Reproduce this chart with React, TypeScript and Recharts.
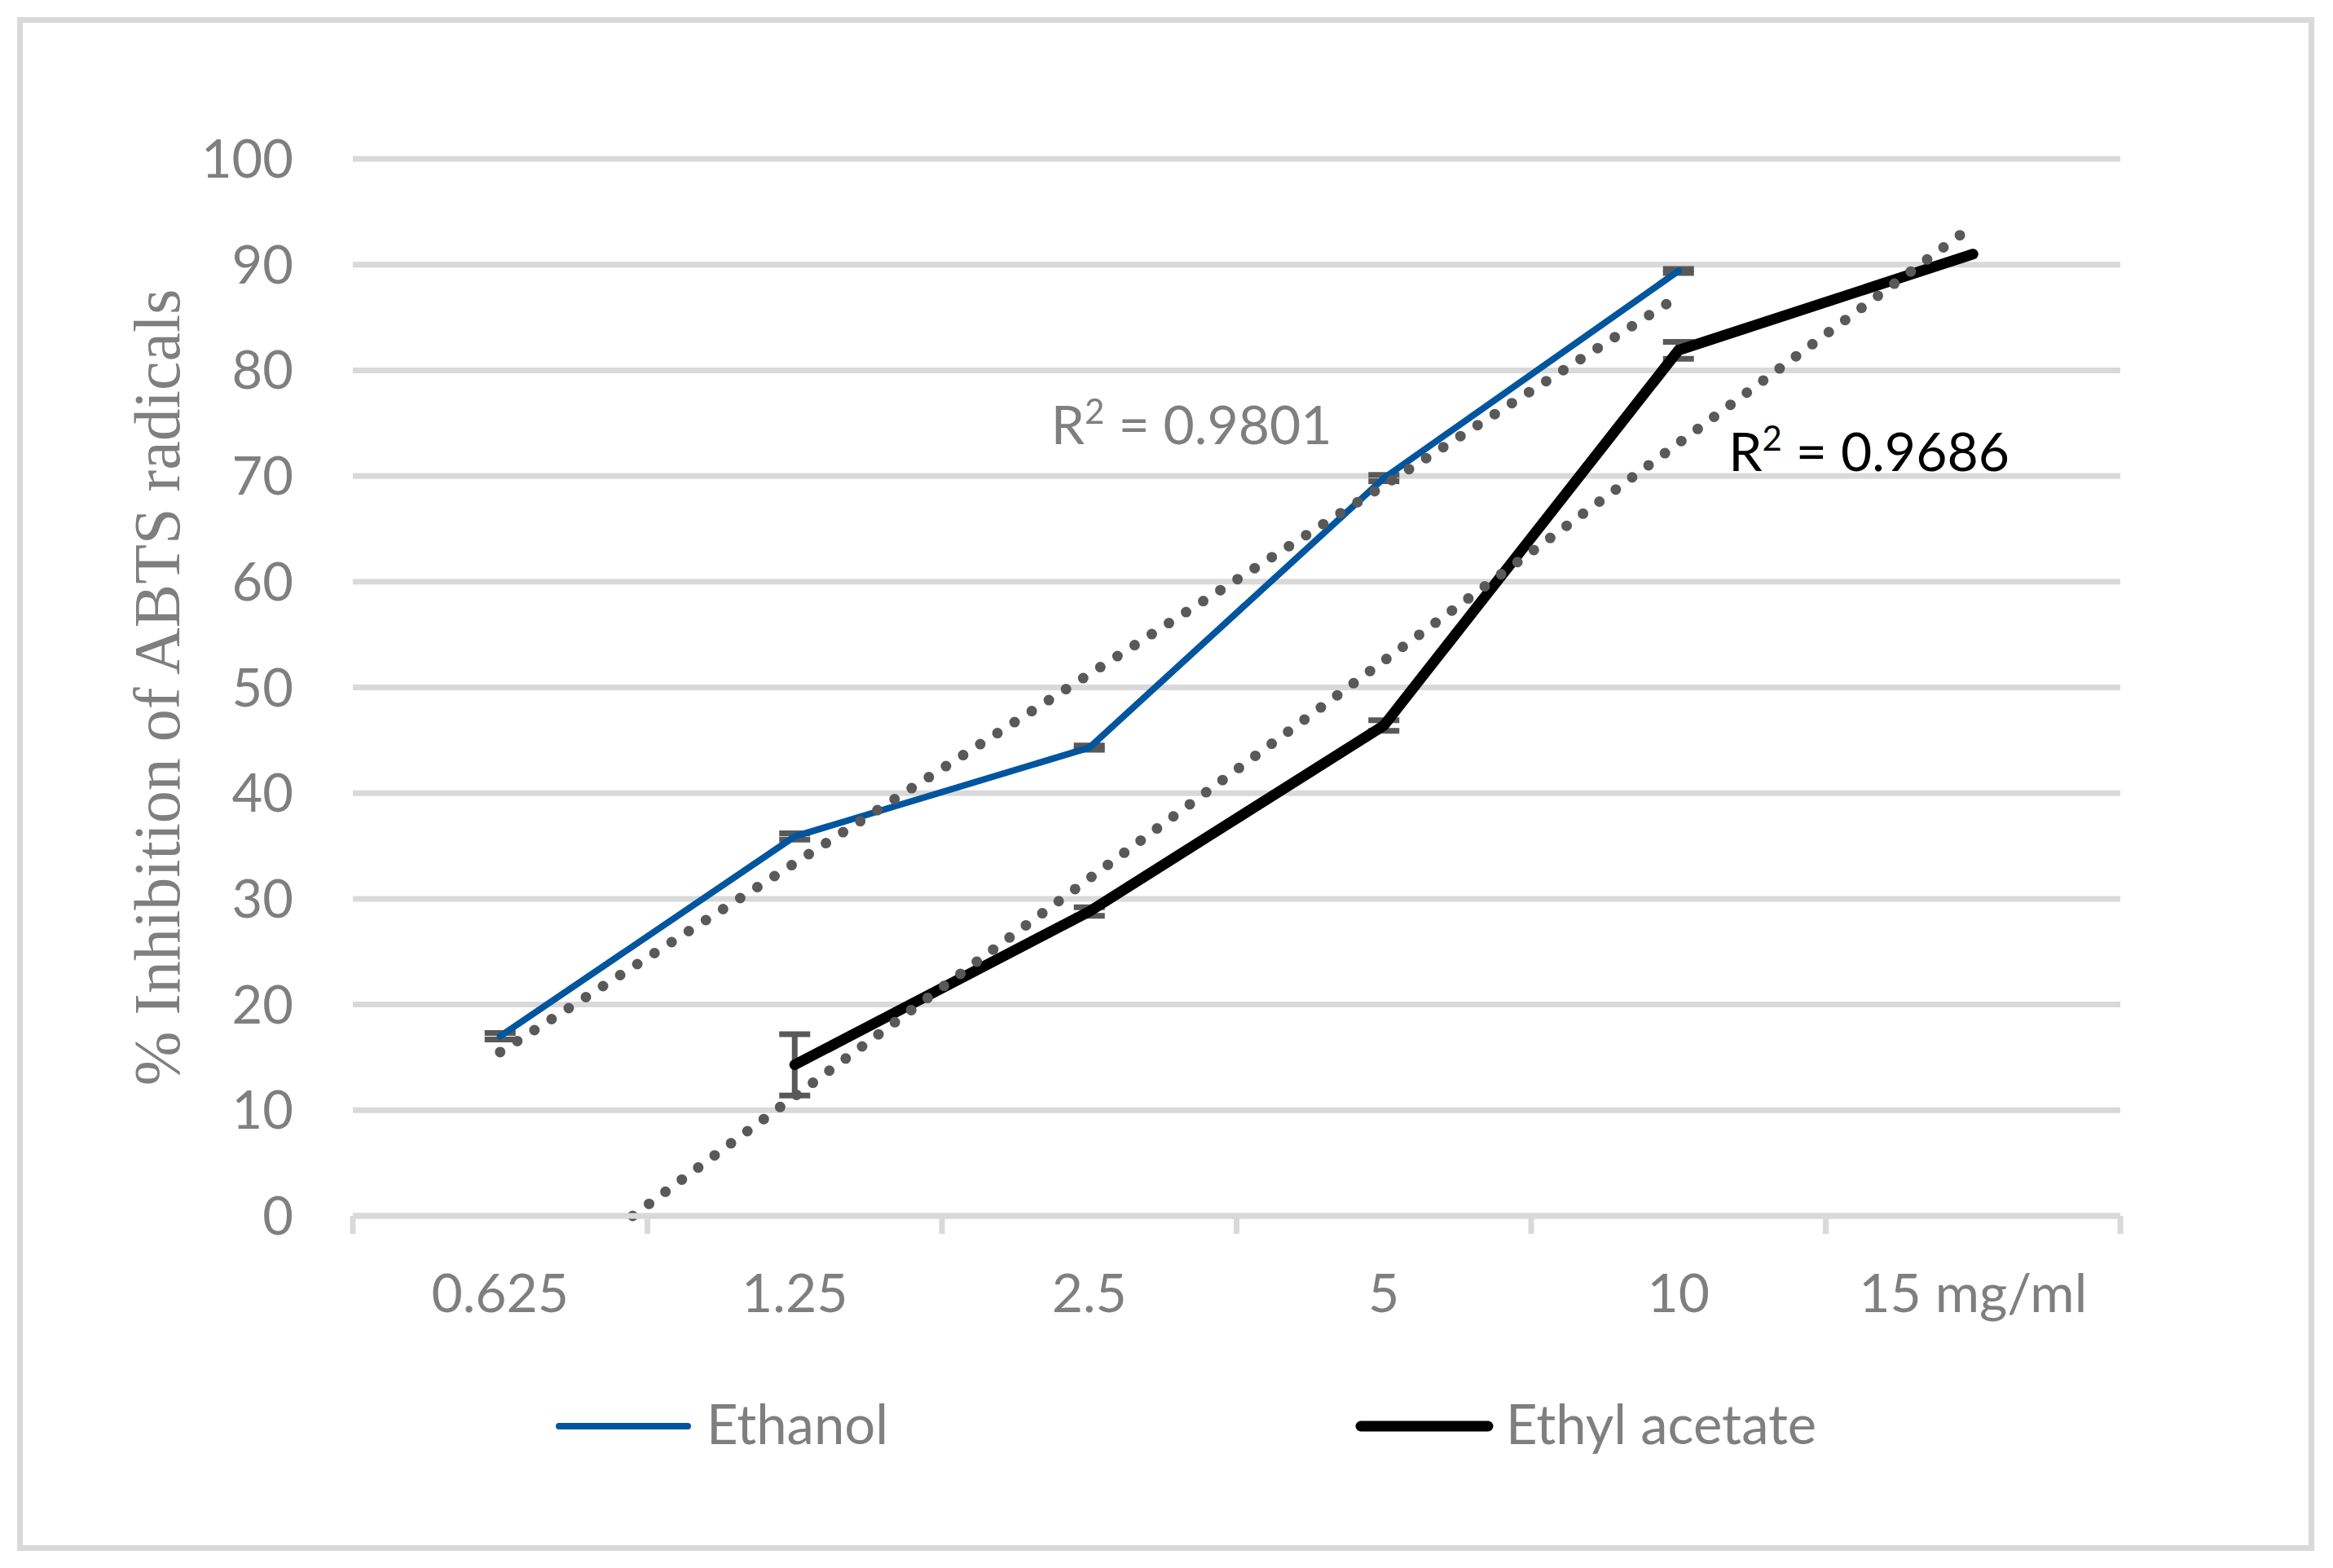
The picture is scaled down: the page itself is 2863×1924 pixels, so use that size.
import React from 'react';
import { LineChart, Line, XAxis, YAxis, CartesianGrid, ErrorBar, Legend, ReferenceDot, Label } from 'recharts';

const categories = ['0.625', '1.25', '2.5', '5', '10', '15 mg/ml'];
const ethanol = [17.0, 35.9, 44.3, 69.8, 89.4, null];
const ethanolErr = [0.3, 0.3, 0.2, 0.3, 0.2, null];
const ethylAcetate = [null, 14.3, 28.8, 46.4, 81.9, 91.0];
const ethylAcetateErr = [null, 2.9, 0.4, 0.5, 0.8, null];

// linear trendline end points
const ethanolTrendX = [0, 4];
const ethanolTrendY = [15.5, 87.0];
const ethylAcetateTrendX = [0.45, 5];
const ethylAcetateTrendY = [0, 93.7];

const r2Values = ['0.9801', '0.9686'];

const yTicks = [0, 10, 20, 30, 40, 50, 60, 70, 80, 90, 100];
// category centres carry labels, half steps carry the tick marks
const xTicks = [-0.5, 0, 0.5, 1, 1.5, 2, 2.5, 3, 3.5, 4, 4.5, 5, 5.5];

const rows = categories.map((c, i) => ({
  x: i,
  ethanol: ethanol[i],
  ethanolErr: ethanolErr[i],
  ethylAcetate: ethylAcetate[i],
  ethylAcetateErr: ethylAcetateErr[i],
}));
const ethanolTrend = ethanolTrendX.map((x, i) => ({ x, y: ethanolTrendY[i] }));
const ethylAcetateTrend = ethylAcetateTrendX.map((x, i) => ({ x, y: ethylAcetateTrendY[i] }));

const GRID = '#d9d9d9';
const TEXT = '#7f7f7f';
const SANS = 'Lato, Carlito, Calibri, sans-serif';

const XTick = (props: any) => {
  const { x, y, payload } = props;
  const v = payload.value;
  if (!Number.isInteger(v)) {
    return <line x1={x} y1={y} x2={x} y2={y + 22} stroke={GRID} strokeWidth={7} />;
  }
  return (
    <text x={x} y={y + 118} textAnchor="middle" fill={TEXT} fontSize={66} fontFamily={SANS}>
      {categories[v]}
    </text>
  );
};

const YTitle = (props: any) => {
  const vb = props.viewBox || { y: 195, height: 1297 };
  const cy = vb.y + vb.height / 2;
  return (
    <text
      x={220}
      y={cy}
      transform={`rotate(-90, 220, ${cy})`}
      textAnchor="middle"
      fill={TEXT}
      fontSize={80}
      fontFamily="'Liberation Serif', 'Times New Roman', serif"
    >
      % Inhibition of ABTS radicals
    </text>
  );
};

const r2Label = (value: string, color: string) => (props: any) => {
  const { viewBox } = props;
  return (
    <text x={viewBox.x} y={viewBox.y} fill={color} fontSize={66} fontFamily={SANS}>
      R
      <tspan fontSize={42} dy={-25}>2</tspan>
      <tspan dy={25}>{` = ${value}`}</tspan>
    </text>
  );
};

const LegendContent = () => (
  <svg width={2863} height={100}>
    <line x1={686} y1={50} x2={844} y2={50} stroke="#00559f" strokeWidth={8} strokeLinecap="round" />
    <text x={867} y={72} fill={TEXT} fontSize={67} fontFamily={SANS}>Ethanol</text>
    <line x1={1670} y1={50} x2={1826} y2={50} stroke="#000" strokeWidth={13} strokeLinecap="round" />
    <text x={1848} y={72} fill={TEXT} fontSize={67} fontFamily={SANS}>Ethyl acetate</text>
  </svg>
);

export default function App() {
  return (
    <div style={{ position: 'absolute', left: 0, top: 0, width: 2863, height: 1924, background: '#fff' }}>
      <div
        style={{
          position: 'absolute',
          left: 21,
          top: 21,
          width: 2819,
          height: 1882,
          border: `7px solid ${GRID}`,
          boxSizing: 'border-box',
        }}
      />
      <div style={{ position: 'absolute', left: 0, top: 0 }}>
        <LineChart width={2863} height={1924} data={rows} margin={{ top: 195, right: 261, bottom: 312, left: 0 }}>
          <CartesianGrid horizontal vertical={false} stroke={GRID} strokeWidth={7} />
          <XAxis
            dataKey="x"
            type="number"
            domain={[-0.5, 5.5]}
            ticks={xTicks}
            interval={0}
            height={120}
            tickSize={0}
            tickMargin={0}
            tickLine={false}
            axisLine={{ stroke: GRID, strokeWidth: 7 }}
            tick={<XTick />}
          />
          <YAxis
            type="number"
            domain={[0, 100]}
            ticks={yTicks}
            interval={0}
            width={433}
            axisLine={false}
            tickLine={false}
            tickSize={0}
            tickMargin={73}
            tick={{ fill: TEXT, fontSize: 65, fontFamily: SANS }}
          >
            <Label content={<YTitle />} />
          </YAxis>
          <Line
            dataKey="ethanol"
            name="Ethanol"
            stroke="#00559f"
            strokeWidth={8}
            strokeLinecap="round"
            strokeLinejoin="round"
            dot={false}
            activeDot={false}
            isAnimationActive={false}
          >
            <ErrorBar dataKey="ethanolErr" direction="y" width={19} strokeWidth={7} stroke="#595959" />
          </Line>
          <Line
            dataKey="ethylAcetate"
            name="Ethyl acetate"
            stroke="#000000"
            strokeWidth={13}
            strokeLinecap="round"
            strokeLinejoin="round"
            dot={false}
            activeDot={false}
            isAnimationActive={false}
          >
            <ErrorBar dataKey="ethylAcetateErr" direction="y" width={19} strokeWidth={7} stroke="#595959" />
          </Line>
          <Line
            data={ethanolTrend}
            dataKey="y"
            stroke="#595959"
            strokeWidth={13}
            strokeDasharray="0 25"
            strokeLinecap="round"
            dot={false}
            activeDot={false}
            legendType="none"
            isAnimationActive={false}
          />
          <Line
            data={ethylAcetateTrend}
            dataKey="y"
            stroke="#595959"
            strokeWidth={13}
            strokeDasharray="0 25"
            strokeLinecap="round"
            dot={false}
            activeDot={false}
            legendType="none"
            isAnimationActive={false}
          />
          <ReferenceDot x={1.87} y={73.0} r={0} fill="none" stroke="none" label={{ content: r2Label(r2Values[0], TEXT) }} />
          <ReferenceDot x={4.17} y={70.5} r={0} fill="none" stroke="none" label={{ content: r2Label(r2Values[1], '#000') }} />
          <Legend
            layout="horizontal"
            align="center"
            verticalAlign="middle"
            wrapperStyle={{ top: 1700, left: 0, width: 2863, height: 100 }}
            content={<LegendContent />}
          />
        </LineChart>
      </div>
    </div>
  );
}
